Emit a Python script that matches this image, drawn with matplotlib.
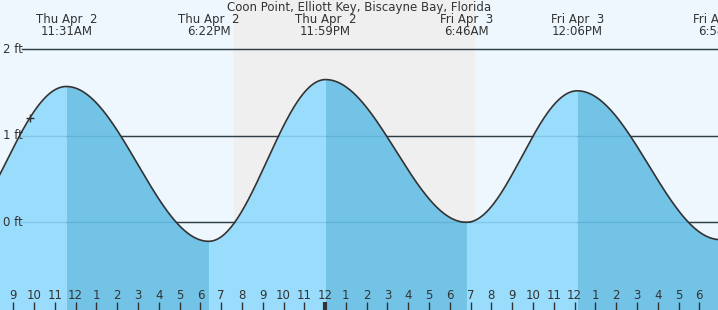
import numpy as np
import matplotlib
matplotlib.use("Agg")
import matplotlib.pyplot as plt
import matplotlib.transforms as mtransforms

# tide extremes (hours from Thu Apr 2 00:00, feet)
tide_hours = [5.6, 11.55, 18.40, 24.02, 30.80, 36.13, 43.0]
tide_ft = [-0.25, 1.57, -0.22, 1.65, 0.0, 1.52, -0.20]
tide_labels = ["", "Thu Apr  2\n11:31AM", "Thu Apr  2\n6:22PM", "Thu Apr  2\n11:59PM",
               "Fri Apr  3\n6:46AM", "Fri Apr  3\n12:06PM", "Fri Apr  3\n6:58PM"]
sunset, sunrise = 19.62, 31.16
now_hour = 9.8
hours = list(range(9, 43))
levels = [0, 1, 2]
title = "Coon Point, Elliott Key, Biscayne Bay, Florida"

x0, x1 = 8.36, 42.9
y0, y1 = -1.014, 2.57

day_bg = "#eef7fe"
night_bg = "#efefef"
rise_col = "#99dcfc"
fall_col = "#73c3e6"
ink = "#333333"

# cosine curve between successive extremes
t = []
h = []
for i in range(len(tide_hours) - 1):
    ta, tb = tide_hours[i], tide_hours[i + 1]
    ha, hb = tide_ft[i], tide_ft[i + 1]
    tt = np.linspace(ta, tb, 120)
    hh = (ha + hb) / 2 + (ha - hb) / 2 * np.cos(np.pi * (tt - ta) / (tb - ta))
    t.extend(tt)
    h.extend(hh)
t = np.array(t)
h = np.array(h)

fig = plt.figure(figsize=(7.18, 3.10), dpi=100)
ax = fig.add_axes([0, 0, 1, 1])
ax.set_xlim(x0, x1)
ax.set_ylim(y0, y1)
ax.axis("off")
fig.patch.set_facecolor(day_bg)

ax.axvspan(sunset, sunrise, color=night_bg, zorder=0)

ytrans = mtransforms.blended_transform_factory(ax.transAxes, ax.transData)
xtrans = mtransforms.blended_transform_factory(ax.transData, ax.transAxes)

# grid lines
for lv in levels:
    ax.axhline(lv, xmin=22 / 718, xmax=1, color=ink, lw=1.0, zorder=1)
    ax.text(3 / 718, lv, "%d ft" % lv, transform=ytrans,
            ha="left", va="center", fontsize=8.5, color=ink, zorder=5)

# fills: light on rising tide, dark on falling
for i in range(len(tide_hours) - 1):
    m = (t >= tide_hours[i]) & (t <= tide_hours[i + 1])
    col = rise_col if tide_ft[i + 1] > tide_ft[i] else fall_col
    ax.fill_between(t[m], y0, h[m], color=col, lw=0, zorder=2)

# grid lines seen through the water
for lv in levels:
    ax.axhline(lv, xmin=22 / 718, xmax=1, color="#1a6fa0", alpha=0.18, lw=1.0, zorder=3)

ax.plot(t, h, color=ink, lw=1.2, zorder=4)
ax.plot([now_hour], [np.interp(now_hour, t, h)], marker="+", color=ink, ms=6, mew=1.0, zorder=5)

# labels at extremes
for th, lab in zip(tide_hours, tide_labels):
    if lab:
        ax.text(th, 0.918, lab, transform=xtrans,
                ha="center", va="center", fontsize=8.5, color=ink, linespacing=0.95)
ax.text(0.5, 0.977, title, transform=ax.transAxes, ha="center", va="center", fontsize=8.5, color=ink)

# hour ticks along the bottom
for hr in hours:
    lab = str((hr - 1) % 12 + 1)
    ax.text(hr, 0.047, lab, transform=xtrans, ha="center", va="center", fontsize=8.5, color=ink)
    ax.plot([hr, hr], [0, 0.026], transform=xtrans, color=ink,
            lw=3 if hr % 24 == 0 else 1, solid_capstyle="butt", zorder=5)

fig.savefig("out.png", dpi=100, facecolor=fig.get_facecolor())
